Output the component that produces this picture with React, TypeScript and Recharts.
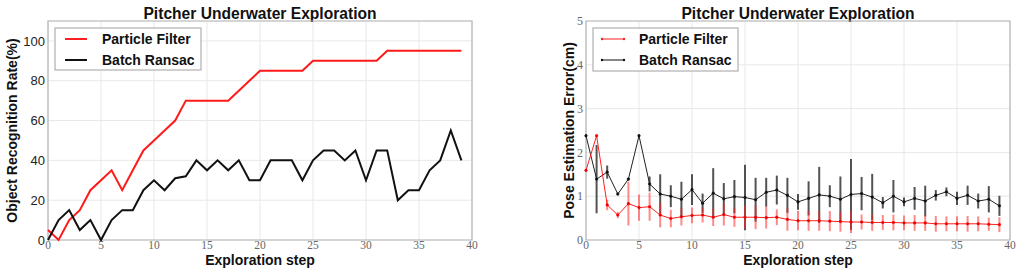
import React from 'react';
import { LineChart, Line, XAxis, YAxis, CartesianGrid, ReferenceArea, ErrorBar } from 'recharts';

const steps = [0,1,2,3,4,5,6,7,8,9,10,11,12,13,14,15,16,17,18,19,20,21,22,23,24,25,26,27,28,29,30,31,32,33,34,35,36,37,38,39];

// Left: Object Recognition Rate (%)
const pfRate = [5,0,10,15,25,30,35,25,35,45,50,55,60,70,70,70,70,70,75,80,85,85,85,85,85,90,90,90,90,90,90,90,95,95,95,95,95,95,95,95];
const brRate = [0,10,15,5,10,0,10,15,15,25,30,25,31,32,40,35,40,35,40,30,30,40,40,40,30,40,45,45,40,45,30,45,45,20,25,25,35,40,55,40];

// Right: Pose Estimation Error (cm)
const pfErr = [1.59,2.38,0.8,0.57,0.83,0.74,0.76,0.57,0.49,0.53,0.56,0.57,0.52,0.58,0.52,0.52,0.52,0.51,0.52,0.47,0.44,0.44,0.44,0.43,0.42,0.41,0.41,0.40,0.40,0.40,0.39,0.39,0.39,0.37,0.37,0.37,0.37,0.37,0.36,0.35];
const pfStd = [0.03,0.03,0.12,0.07,0.5,0.3,0.32,0.28,0.2,0.2,0.18,0.17,0.2,0.25,0.22,0.27,0.27,0.25,0.18,0.26,0.22,0.23,0.23,0.23,0.23,0.25,0.17,0.19,0.17,0.18,0.17,0.18,0.18,0.18,0.17,0.17,0.18,0.17,0.15,0.17];
const brErr = [2.38,1.39,1.55,1.05,1.39,2.38,1.28,1.05,1.0,0.93,1.15,0.84,1.07,0.94,0.99,0.97,0.92,1.09,1.14,1.02,0.87,0.95,1.03,1.0,0.93,1.04,1.06,0.98,0.85,1.0,0.87,0.95,0.89,1.02,1.10,0.95,1.02,0.89,0.93,0.78];
const brStd = [0.03,0.78,0.15,0.03,0.03,0.03,0.17,0.45,0.25,0.4,0.35,0.22,0.57,0.36,0.38,0.75,0.5,0.33,0.33,0.4,0.18,0.39,0.64,0.25,0.52,0.81,0.38,0.53,0.13,0.37,0.1,0.26,0.35,0.12,0.1,0.15,0.22,0.17,0.3,0.23];

const xTicks = [0,5,10,15,20,25,30,35,40];
const leftYTicks = [0,20,40,60,80,100];
const rightYTicks = [0,1,2,3,4,5];

const title = 'Pitcher Underwater Exploration';
const xLabel = 'Exploration step';
const leftYLabel = 'Object Recognition Rate(%)';
const rightYLabel = 'Pose Estimation Error(cm)';
const seriesNames = ['Particle Filter', 'Batch Ransac'];

const leftRows = steps.map((s, i) => ({ step: s, pf: pfRate[i], br: brRate[i] }));
const rightRows = steps.map((s, i) => ({ step: s, pf: pfErr[i], pfs: pfStd[i], br: brErr[i], brs: brStd[i] }));

const SANS = '"Liberation Sans", Arial, sans-serif';
const SERIF = '"Liberation Serif", "DejaVu Serif", serif';
const serifTick = { fontFamily: SERIF, fontSize: 11.5, fill: '#666' };
const serifTickY = { fontFamily: SERIF, fontSize: 12, fill: '#666' };
const sansTick = { fontFamily: SANS, fontSize: 13, fill: '#222' };
const frame = '#b5b5b5';
const grid = '#e8e8e8';

function LegendBox({ x, y, w, h, sx, tx, withDots }: any) {
  const colors = ['#ff2020', '#111'];
  return (
    <g>
      <rect x={x} y={y} width={w} height={h} fill="#fff" stroke="#b0b0b0" strokeWidth={1.2} />
      {seriesNames.map((n, i) => {
        const cy = y + 11 + i * 21;
        return (
          <g key={n}>
            <line x1={x + sx} x2={x + sx + 22} y1={cy} y2={cy} stroke={colors[i]} strokeWidth={withDots ? 1 : 2} />
            {withDots && <circle cx={x + sx} cy={cy} r={1.2} fill={colors[i]} />}
            {withDots && <circle cx={x + sx + 22} cy={cy} r={1.2} fill={colors[i]} />}
            <text x={x + tx} y={cy + 5} fontFamily={SANS} fontWeight="bold" fontSize={14} fill="#111">{n}</text>
          </g>
        );
      })}
    </g>
  );
}

function Titles({ cx }: any) {
  return (
    <g>
      <text x={cx} y={19} textAnchor="middle" fontFamily={SANS} fontWeight="bold" fontSize={15.6} fill="#111">{title}</text>
      <text x={cx} y={264.5} textAnchor="middle" fontFamily={SANS} fontWeight="bold" fontSize={14} fill="#111">{xLabel}</text>
    </g>
  );
}

export default function App() {
  return (
    <div style={{ position: 'absolute', left: 0, top: 0, width: 1024, height: 274, background: '#fff' }}>
      <div style={{ position: 'absolute', left: 0, top: 0 }}>
        <LineChart width={512} height={274} data={leftRows} margin={{ top: 21, right: 40, left: 0, bottom: 0 }}>
          <CartesianGrid stroke={grid} strokeWidth={1} />
          <XAxis type="number" dataKey="step" domain={[0, 40]} ticks={xTicks} tickSize={0} tickMargin={1} axisLine={false} height={34} tick={serifTick} interval={0} />
          <YAxis type="number" domain={[0, 110]} ticks={leftYTicks} width={48} tickSize={0} tickMargin={3} axisLine={false} tick={sansTick} interval={0} />
          <ReferenceArea x1={0} x2={40} y1={0} y2={110} fill="none" stroke={frame} strokeWidth={1.2} ifOverflow="visible" />
          <Line type="linear" dataKey="pf" stroke="#ff1a1a" strokeWidth={2} dot={false} isAnimationActive={false} />
          <Line type="linear" dataKey="br" stroke="#111" strokeWidth={2} dot={false} isAnimationActive={false} />
          <LegendBox x={55} y={28} w={146} h={42} sx={10} tx={47} withDots={false} />
          <Titles cx={260} />
          <text transform="translate(17,130.5) rotate(-90)" textAnchor="middle" fontFamily={SANS} fontWeight="bold" fontSize={14} fill="#111">{leftYLabel}</text>
        </LineChart>
      </div>
      <div style={{ position: 'absolute', left: 512, top: 0 }}>
        <LineChart width={512} height={274} data={rightRows} margin={{ top: 21, right: 14, left: 0, bottom: 0 }}>
          <CartesianGrid stroke={grid} strokeWidth={1} />
          <XAxis type="number" dataKey="step" domain={[0, 40]} ticks={xTicks} tickSize={0} tickMargin={1} axisLine={false} height={34} tick={serifTick} interval={0} />
          <YAxis type="number" domain={[0, 5]} ticks={rightYTicks} width={74} tickSize={0} tickMargin={3} axisLine={false} tick={serifTickY} interval={0} />
          <ReferenceArea x1={0} x2={40} y1={0} y2={5} fill="none" stroke={frame} strokeWidth={1.2} ifOverflow="visible" />
          <Line type="linear" dataKey="br" stroke="#222" strokeWidth={1} dot={{ r: 1.3, fill: '#111', stroke: '#111', strokeWidth: 0.5 }} isAnimationActive={false}>
            <ErrorBar dataKey="brs" width={0} stroke="rgba(40,40,40,0.8)" strokeWidth={2} direction="y" isAnimationActive={false} />
          </Line>
          <Line type="linear" dataKey="pf" stroke="#ff2020" strokeWidth={1} dot={{ r: 1.3, fill: '#e00', stroke: '#e00', strokeWidth: 0.5 }} isAnimationActive={false}>
            <ErrorBar dataKey="pfs" width={0} stroke="rgba(255,40,40,0.55)" strokeWidth={2} direction="y" isAnimationActive={false} />
          </Line>
          <LegendBox x={81} y={28} w={145} h={43} sx={9} tx={46} withDots={true} />
          <Titles cx={286} />
          <text transform="translate(62,130.5) rotate(-90)" textAnchor="middle" fontFamily={SANS} fontWeight="bold" fontSize={14} fill="#111">{rightYLabel}</text>
        </LineChart>
      </div>
    </div>
  );
}
